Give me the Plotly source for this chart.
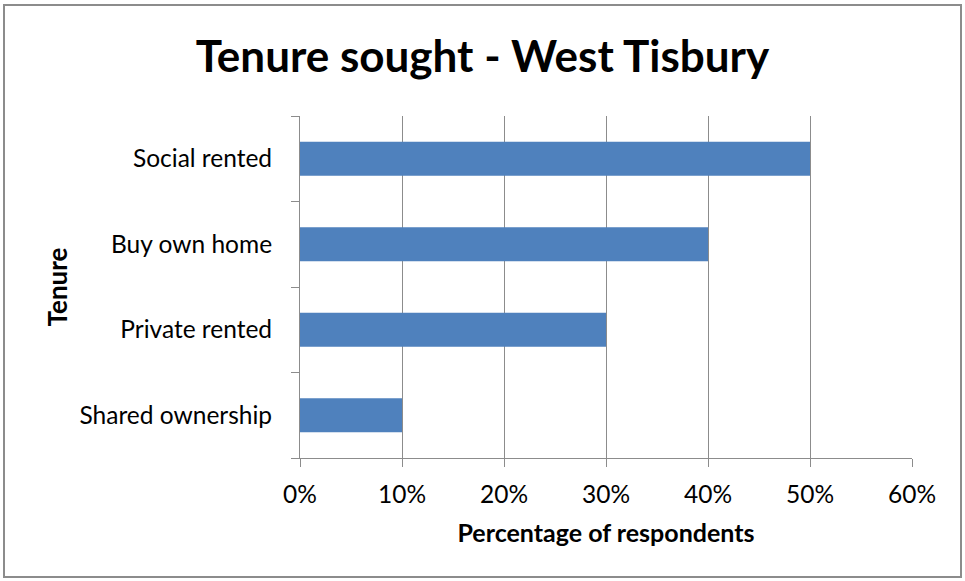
import plotly.graph_objects as go

categories = ["Shared ownership", "Private rented", "Buy own home", "Social rented"]
values = [0.10, 0.30, 0.40, 0.50]
x_ticks = [0, 0.1, 0.2, 0.3, 0.4, 0.5, 0.6]
x_tick_labels = ["0%", "10%", "20%", "30%", "40%", "50%", "60%"]

W, H = 965, 581
L, R, T, B = 300, 53, 116, 123
pw, ph = W - L - R, H - T - B

def px_x(x):
    return (x - L) / pw

def px_y(y):
    return (H - B - y) / ph

font_family = "Lato, 'Open Sans', sans-serif"

fig = go.Figure(go.Bar(
    x=values, y=categories, orientation="h",
    marker=dict(color="#4F81BD", line=dict(width=0)),
    width=0.4,
))

fig.update_layout(
    width=W, height=H,
    margin=dict(l=L, r=R, t=T, b=B),
    paper_bgcolor="white", plot_bgcolor="white",
    showlegend=False,
    font=dict(family=font_family, color="#000000", size=24),
    title=dict(text="<b>Tenure sought - West Tisbury</b>", x=0.5, xanchor="center",
               y=1 - 57 / H, yanchor="middle", font=dict(size=44, color="#000000")),
    xaxis=dict(range=[0, 0.6], tickvals=x_ticks, ticktext=x_tick_labels,
               showgrid=True, gridcolor="#8C8C8C", gridwidth=1,
               showline=True, linecolor="#8C8C8C", linewidth=1,
               ticks="outside", ticklen=8, tickcolor="#8C8C8C",
               zeroline=False, tickfont=dict(size=24.5), ticklabelstandoff=7,
               title=dict(text="<b>Percentage of respondents</b>", font=dict(size=25), standoff=17)),
    yaxis=dict(categoryorder="array", categoryarray=categories,
               range=[-0.5, 3.5], tickson="boundaries",
               showgrid=False, showline=True, linecolor="#8C8C8C", linewidth=1,
               ticks="outside", ticklen=8, tickcolor="#8C8C8C",
               tickfont=dict(size=24.5), ticklabelstandoff=22,
               title=dict(text="<b>Tenure</b>", font=dict(size=26), standoff=4)),
    shapes=[dict(type="rect", xref="paper", yref="paper",
                 x0=px_x(4), x1=px_x(961), y0=px_y(577), y1=px_y(5),
                 line=dict(color="#8C8C8C", width=2), fillcolor="rgba(0,0,0,0)", layer="below")],
)

fig.write_html("out.html", config={"displayModeBar": False},
               post_script="document.body.style.margin='0';document.body.style.overflow='hidden';")
